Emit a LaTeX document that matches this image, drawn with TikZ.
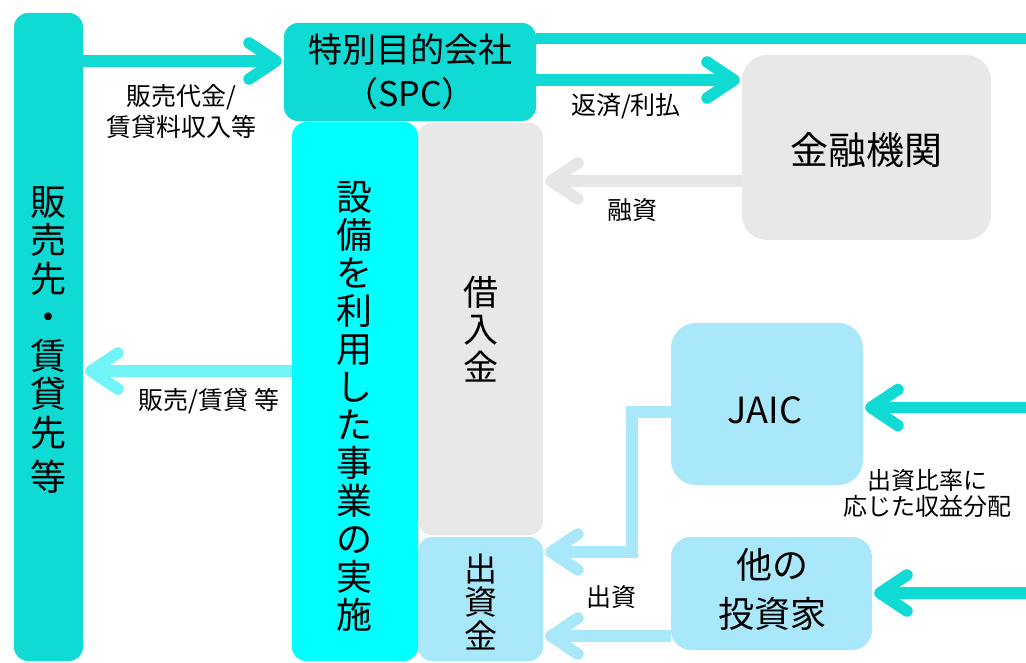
\documentclass[tikz,border=0pt]{standalone}
\usepackage{fontspec}
\setmainfont{Noto Sans CJK JP}
\usetikzlibrary{arrows.meta}
\definecolor{tealc}{HTML}{10DAD4}
\definecolor{cyanbox}{HTML}{00FFFF}
\definecolor{cyanarrow}{HTML}{70F4F8}
\definecolor{grayc}{HTML}{E8E8E8}
\definecolor{grayarrow}{HTML}{E6E6E6}
\definecolor{lblue}{HTML}{A8E8FA}
\begin{document}
\begin{tikzpicture}[x=1pt,y=-1pt,
  box/.style={rounded corners=14pt, inner sep=0pt, align=center},
  chev/.style={-{Straight Barb[length=27pt,width=36pt,round]}, shorten >=2pt},
  flow/.style={line width=11.5pt},
  lbl/.style={inner sep=0pt, align=center, font=\fontsize{25}{31}\selectfont},
  vtext/.style={inner sep=0pt, align=center}
]
\useasboundingbox (0,0) rectangle (1026,663);
\fill[white] (0,0) rectangle (1026,663);

% boxes
\node[box, fill=tealc, minimum width=69pt, minimum height=648pt] (buyer) at (48.5,337) {};
\node[vtext, font=\fontsize{36}{38.5}\selectfont] (buyertext) at (48.5,340) {販\\売\\先\\・\\賃\\貸\\先\\[6pt]等};

\node[box, fill=tealc, minimum width=252pt, minimum height=98pt, font=\fontsize{34}{44}\selectfont] (spc) at (410,72) {特別目的会社\\（SPC）};

\node[box, fill=grayc, minimum width=125pt, minimum height=412pt] (loan) at (480.5,329) {};
\node[vtext, font=\fontsize{35}{37.5}\selectfont] (loantext) at (480.5,329) {借\\入\\金};

\node[box, fill=lblue, minimum width=125pt, minimum height=124pt] (equity) at (480.5,599) {};
\node[vtext, font=\fontsize{33}{33.5}\selectfont] (equitytext) at (480.5,602) {出\\資\\金};

\node[box, fill=cyanbox, minimum width=126pt, minimum height=539pt] (biz) at (355,391.5) {};
\node[vtext, font=\fontsize{36}{38}\selectfont] (biztext) at (354,406) {設\\備\\を\\利\\用\\し\\た\\事\\業\\の\\実\\施};

\node[box, rounded corners=25pt, fill=grayc, minimum width=249pt, minimum height=185pt] (bank) at (866.5,147.5) {};
\node[inner sep=0pt, font=\fontsize{38}{40}\selectfont] (banktext) at (866,150) {金融機関};

\node[box, rounded corners=25pt, fill=lblue, minimum width=192pt, minimum height=162pt] (jaic) at (767,404) {};
\node[inner sep=0pt, font=\fontsize{36}{38}\selectfont] (jaictext) at (765,410) {JAIC};

\node[box, rounded corners=20pt, fill=lblue, minimum width=201pt, minimum height=113pt] (inv) at (771.5,593.5) {};
\node[vtext, font=\fontsize{36}{49}\selectfont] (invtext) at (772,589) {他の\\投資家};

% helper coordinates
\coordinate (ya) at (0,61);
\coordinate (yb) at (0,38.5);
\coordinate (yc) at (0,80);
\coordinate (yd) at (0,181);
\coordinate (ye) at (0,371);
\coordinate (yf) at (0,412);
\coordinate (bend) at (632,552);
\coordinate (yg) at (0,636);
\coordinate (yh) at (0,407.5);
\coordinate (yi) at (0,593);
\coordinate (rightA) at (1040,38.5);
\coordinate (rightB) at (1040,407.5);
\coordinate (rightC) at (1040,593);

% connectors
\draw[flow, tealc, chev] (buyer.east |- ya) -- (spc.west |- ya);
\draw[flow, tealc] (spc.east |- yb) -- (rightA);
\draw[flow, tealc, chev] (spc.east |- yc) -- (bank.west |- yc);
\draw[flow, grayarrow, chev] (bank.west |- yd) -- (loan.east |- yd);
\draw[flow, cyanarrow, chev] (biz.west |- ye) -- (buyer.east |- ye);
\draw[flow, lblue, chev] (jaic.west |- yf) -| (bend) -- (equity.east |- bend);
\draw[flow, lblue, chev] (inv.west |- yg) -- (equity.east |- yg);
\draw[flow, tealc, chev] (rightB) -- (jaic.east |- yh);
\draw[flow, tealc, chev] (rightC) -- (inv.east |- yi);

% labels
\node[lbl] (l1) at (181,112) {販売代金/\\賃貸料収入等};
\node[lbl] (l2) at (626,106) {返済/利払};
\node[lbl] (l3) at (632,210) {融資};
\node[lbl] (l4) at (209,401) {販売/賃貸 等};
\node[lbl] (l5) at (611,597) {出資};
\node[lbl, font=\fontsize{24}{26}\selectfont] (l6) at (927,493) {出資比率に\\応じた収益分配};
\end{tikzpicture}
\end{document}
